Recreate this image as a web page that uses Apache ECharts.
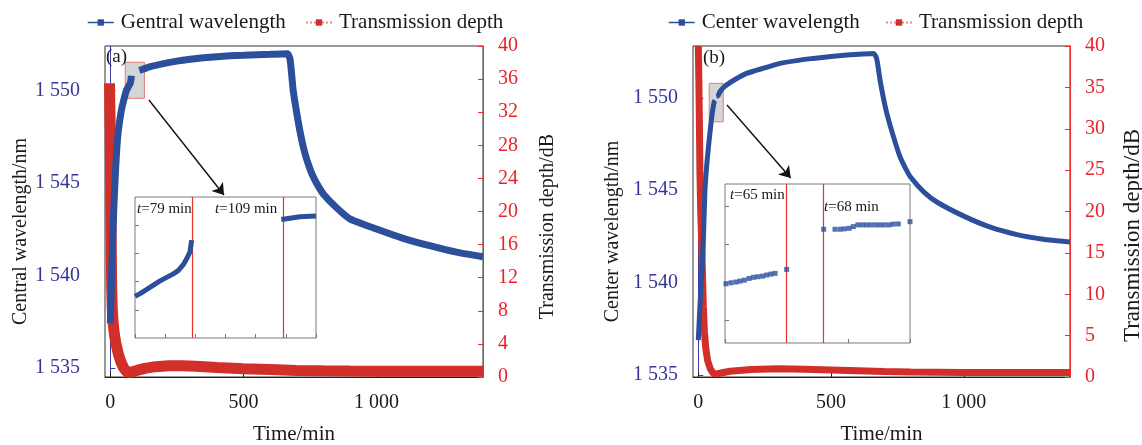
<!DOCTYPE html>
<html>
<head>
<meta charset="utf-8">
<script src="https://cdn.jsdelivr.net/npm/echarts@6/dist/echarts.min.js"></script>
<style>
  html, body { margin: 0; padding: 0; background: #fff; }
  #chart { width: 1142px; height: 445px; }
</style>
</head>
<body>
<div id="chart"></div>
<script>
// ---- panel (a) ----
const aWaveTime = [0, 3, 6, 9, 12, 16, 20, 25, 30, 40, 50, 60, 66, 72, 75, 77, 79, 94, 109, 120, 150, 200, 250, 300, 350, 400, 450, 500, 550, 600, 640, 665, 675, 687, 700, 715, 730, 750, 765, 780, 800, 850, 900, 1000, 1100, 1200, 1300, 1400];
const aWaveNm = [1537.4, 1539.0, 1540.6, 1541.9, 1543.2, 1544.6, 1545.8, 1547.0, 1547.8, 1548.8, 1549.45, 1549.99, 1550.15, 1550.31, 1550.41, 1550.52, 1550.79, null, 1551.08, 1551.13, 1551.28, 1551.45, 1551.58, 1551.68, 1551.76, 1551.82, 1551.87, 1551.9, 1551.93, 1551.95, 1551.97, 1551.98, 1551.7, 1550.0, 1548.8, 1547.6, 1546.65, 1545.75, 1545.25, 1544.85, 1544.4, 1543.65, 1543.05, 1542.5, 1542.0, 1541.6, 1541.25, 1541.0];
const aDepthTime = [-3, -2, -1, 0, 1, 2, 3, 4, 5, 7, 10, 15, 20, 30, 40, 50, 60, 68, 80, 100, 130, 170, 220, 270, 320, 400, 500, 600, 700, 800, 900, 1000, 1100, 1200, 1300, 1400];
const aDepthDb = [35.5, 33, 31, 28, 24, 20, 17, 14, 11, 8.5, 6.8, 5.2, 4.2, 2.8, 1.8, 1.1, 0.7, 0.55, 0.6, 0.8, 1.05, 1.25, 1.35, 1.35, 1.3, 1.15, 1.0, 0.9, 0.8, 0.75, 0.72, 0.7, 0.68, 0.7, 0.68, 0.7];
const aInsetTime = [60, 61.7, 63.9, 66.1, 68.3, 70.5, 72.7, 74.4, 76.0, 77.1, 78.2, 78.8, 93, 108.5, 114.7, 120];
const aInsetNm = [1549.99, 1550.03, 1550.09, 1550.15, 1550.21, 1550.26, 1550.31, 1550.36, 1550.44, 1550.52, 1550.62, 1550.79, null, 1551.08, 1551.12, 1551.13];
const aMarkTimes = [79, 109];

// ---- panel (b) ----
const bWaveTime = [0, 6, 13, 19, 25, 32, 40, 50, 56, 60, 62, 64, 65, 66.5, 68, 75, 82, 95, 107, 140, 182, 250, 308, 370, 433, 500, 559, 620, 660, 672, 684, 697, 710, 735, 760, 780, 800, 850, 900, 1000, 1100, 1200, 1300, 1400];
const bWaveNm = [1536.9, 1538.7, 1540.5, 1542.3, 1545.0, 1546.4, 1547.6, 1548.9, 1549.5, 1549.79, 1549.82, 1549.85, 1549.87, null, 1550.08, 1550.12, 1550.34, 1550.55, 1550.7, 1551.0, 1551.32, 1551.62, 1551.86, 1552.01, 1552.13, 1552.23, 1552.31, 1552.37, 1552.4, 1552.1, 1551.0, 1550.0, 1549.16, 1547.9, 1546.8, 1546.2, 1545.7, 1544.9, 1544.35, 1543.6, 1543.0, 1542.6, 1542.35, 1542.2];
const bDepthTime = [0, 2, 4, 6, 9, 13, 16, 19, 23, 28, 35, 45, 55, 63, 80, 120, 200, 300, 400, 500, 600, 700, 800, 1000, 1200, 1400];
const bDepthDb = [40, 36, 31, 25, 20, 16, 12, 8.5, 5.5, 3.5, 2.0, 1.0, 0.5, 0.35, 0.45, 0.7, 0.9, 1.0, 0.95, 0.85, 0.75, 0.65, 0.6, 0.55, 0.55, 0.55];
const bInsetTime = [60.08, 60.49, 60.89, 61.22, 61.57, 61.95, 62.3, 62.65, 63.03, 63.38, 63.73, 64.06, 65.0, 68.0, 68.92, 69.33, 69.68, 70.06, 70.41, 70.77, 71.14, 71.49, 71.84, 72.22, 72.57, 72.92, 73.3, 73.65, 74.05, 75.0];
const bInsetNm = [1549.793, 1549.798, 1549.802, 1549.807, 1549.812, 1549.821, 1549.827, 1549.83, 1549.833, 1549.839, 1549.844, 1549.848, 1549.869, 1550.081, 1550.081, 1550.081, 1550.083, 1550.086, 1550.095, 1550.104, 1550.104, 1550.104, 1550.104, 1550.104, 1550.104, 1550.104, 1550.104, 1550.108, 1550.109, 1550.121];
const bMarkTimes = [65, 68];

// tick labels
const timeTicks = [0, 500, 1000];
const waveTicks = [1535, 1540, 1545, 1550];
const aInsetTicks = [1549.8, 1550.2, 1550.6, 1551.0];
const bInsetTicks = [1549.6, 1549.8, 1550.0, 1550.2];

const FONT = 'Liberation Serif';
const BLUE = '#2c4f9c';
const RED = '#d22f2a';
const AXIS_BLUE = '#3a3aa8';
const AXIS_RED = '#ee2a2a';

const pairs = (xs, ys) => xs.map((x, i) => [x, ys[i]]);
// 1550 -> "1 550"
const fmt = v => {
  const s = String(Math.round(v));
  return s.length === 4 ? s[0] + ' ' + s.slice(1) : s;
};

function timeAxis(gridIndex) {
  return {
    type: 'value', gridIndex: gridIndex, min: -20, max: 1400,
    axisLine: { lineStyle: { color: '#222' } },
    axisTick: { inside: true, length: 5, customValues: timeTicks, lineStyle: { color: '#222' } },
    axisLabel: { customValues: timeTicks, formatter: fmt, fontSize: 20, fontFamily: FONT, color: '#1a1a1a', margin: 16 },
    splitLine: { show: false },
    name: 'Time/min', nameLocation: 'middle', nameGap: 47,
    nameTextStyle: { fontSize: 21, fontFamily: FONT, color: '#1a1a1a' }
  };
}

function waveAxis(gridIndex, min, max, name, gap, margin) {
  return {
    type: 'value', gridIndex: gridIndex, position: 'left', min: min, max: max,
    axisLine: { show: true, lineStyle: { color: AXIS_BLUE } },
    axisTick: { show: true, inside: true, length: 5, customValues: waveTicks, lineStyle: { color: AXIS_BLUE } },
    axisLabel: { customValues: waveTicks, formatter: fmt, fontSize: 20, fontFamily: FONT, color: '#35359a', margin: margin },
    splitLine: { show: false },
    name: name, nameLocation: 'middle', nameRotate: 90, nameGap: gap,
    nameTextStyle: { fontSize: 20, fontFamily: FONT, color: '#1a1a1a', padding: [0, 40, 0, 0] }
  };
}

function depthAxis(gridIndex, interval, nameSize, nameGap, shift) {
  return {
    type: 'value', gridIndex: gridIndex, position: 'right', min: 0, max: 40, interval: interval,
    axisLine: { show: true, lineStyle: { color: AXIS_RED } },
    axisTick: { show: true, inside: true, length: 5, lineStyle: { color: AXIS_RED } },
    axisLabel: { fontSize: 20, fontFamily: FONT, color: '#e8232a', margin: 15 },
    splitLine: { show: false },
    name: 'Transmission depth/dB', nameLocation: 'middle', nameRotate: 90, nameGap: nameGap,
    nameTextStyle: { fontSize: nameSize, fontFamily: FONT, color: '#1a1a1a', padding: [0, shift, 0, 0] }
  };
}

function insetX(gridIndex, min, max, interval) {
  return {
    type: 'value', gridIndex: gridIndex, min: min, max: max, interval: interval, z: 4,
    axisLine: { show: false },
    axisTick: { inside: true, length: 4, lineStyle: { color: '#777' } },
    axisLabel: { show: false },
    splitLine: { show: false }
  };
}

function insetY(gridIndex, min, max, ticks) {
  return {
    type: 'value', gridIndex: gridIndex, min: min, max: max, z: 4,
    axisLine: { show: false },
    axisTick: { inside: true, length: 4, customValues: ticks, lineStyle: { color: '#777' } },
    axisLabel: { show: false, customValues: ticks },
    splitLine: { show: false }
  };
}

function legend(left, name, dotted) {
  return {
    left: left, top: 12, padding: 0, itemWidth: 26, itemHeight: 8, itemGap: 0,
    data: [name],
    lineStyle: dotted ? { width: 2, type: 'dotted', color: '#f08a85' } : { width: 1.5 },
    textStyle: { fontSize: 21, fontFamily: FONT, color: '#1a1a1a', padding: [0, 0, 0, 2] },
    selectedMode: false
  };
}

const grayBox = {
  silent: true,
  itemStyle: { color: 'rgba(195,195,195,0.7)', borderColor: '#e57a7a', borderWidth: 1 }
};
const arrowLine = {
  silent: true, symbol: ['none', 'arrow'], symbolSize: 11,
  lineStyle: { color: '#111', width: 1.4, type: 'solid' },
  label: { show: false }
};
const redLine = {
  silent: true, symbol: ['none', 'none'],
  lineStyle: { color: '#e5352a', width: 1.2, type: 'solid' },
  label: { show: false }
};

function label(left, top, text, size) {
  return {
    type: 'text', left: left, top: top, z: 20,
    style: {
      text: text, fontSize: size, fontFamily: FONT, fill: '#1a1a1a',
      rich: { i: { fontStyle: 'italic', fontSize: size, fontFamily: FONT, fill: '#1a1a1a' } }
    }
  };
}

const chart = echarts.init(document.getElementById('chart'));
chart.setOption({
  animation: false,
  backgroundColor: '#fff',
  legend: [
    legend(87, 'Gentral wavelength', false),
    legend(305, 'Transmission depth', true),
    legend(668, 'Center wavelength', false),
    legend(885, 'Transmission depth', true)
  ],
  grid: [
    { left: 105, top: 46, width: 378, height: 331, show: true, borderColor: '#333', borderWidth: 1, outerBoundsMode: 'none' },
    { left: 693, top: 46, width: 377, height: 331, show: true, borderColor: '#333', borderWidth: 1, outerBoundsMode: 'none' },
    { left: 135, top: 197, width: 181, height: 141, show: true, backgroundColor: '#fff', borderColor: '#7a7a7a', borderWidth: 1, z: 3, outerBoundsMode: 'none' },
    { left: 725, top: 184, width: 185, height: 159, show: true, backgroundColor: '#fff', borderColor: '#7a7a7a', borderWidth: 1, z: 3, outerBoundsMode: 'none' }
  ],
  xAxis: [
    timeAxis(0),
    timeAxis(1),
    insetX(2, 60, 120, 10),
    insetX(3, 60, 75, 5)
  ],
  yAxis: [
    waveAxis(0, 1534.5, 1552.4, 'Central wavelength/nm', 70, 25),
    depthAxis(0, 4, 20, 55, 30),
    waveAxis(1, 1534.9, 1552.8, 'Center wavelength/nm', 70, 15),
    depthAxis(1, 5, 23, 51, 48),
    insetY(2, 1549.4, 1551.4, aInsetTicks),
    insetY(3, 1549.48, 1550.32, bInsetTicks)
  ],
  graphic: [
    label(106, 48, '(a)', 19),
    label(703, 49, '(b)', 19),
    label(137, 202, '{i|t}=79 min', 15),
    label(215, 202, '{i|t}=109 min', 15),
    label(730, 188, '{i|t}=65 min', 15),
    label(824, 200, '{i|t}=68 min', 15)
  ],
  series: [
    {
      name: 'Transmission depth', type: 'line', xAxisIndex: 0, yAxisIndex: 1,
      data: pairs(aDepthTime, aDepthDb), showSymbol: false, symbol: 'rect',
      lineStyle: { width: 11, color: RED }, itemStyle: { color: RED }, z: 2
    },
    {
      name: 'Gentral wavelength', type: 'line', xAxisIndex: 0, yAxisIndex: 0,
      data: pairs(aWaveTime, aWaveNm), showSymbol: false, symbol: 'rect', smooth: 0.2,
      lineStyle: { width: 7, color: BLUE }, itemStyle: { color: BLUE }, z: 2,
      markLine: Object.assign({ data: [[{ coord: [145, 1549.48] }, { coord: [427, 1544.34] }]] }, arrowLine)
    },
    {
      name: 'box a', type: 'line', xAxisIndex: 0, yAxisIndex: 0, data: [], z: 3,
      markArea: Object.assign({ data: [[{ coord: [56, 1551.52] }, { coord: [128, 1549.57] }]] }, grayBox)
    },
    {
      name: 'Transmission depth', type: 'line', xAxisIndex: 1, yAxisIndex: 3,
      data: pairs(bDepthTime, bDepthDb), showSymbol: false, symbol: 'rect',
      lineStyle: { width: 7, color: RED }, itemStyle: { color: RED }, z: 2
    },
    {
      name: 'Center wavelength', type: 'line', xAxisIndex: 1, yAxisIndex: 2,
      data: pairs(bWaveTime, bWaveNm), showSymbol: false, symbol: 'rect', smooth: 0.2,
      lineStyle: { width: 5, color: BLUE }, itemStyle: { color: BLUE }, z: 2,
      markLine: Object.assign({ data: [[{ coord: [108, 1549.61] }, { coord: [348, 1545.66] }]] }, arrowLine)
    },
    {
      name: 'box b', type: 'line', xAxisIndex: 1, yAxisIndex: 2, data: [], z: 3,
      markArea: Object.assign({ data: [[{ coord: [41, 1550.78] }, { coord: [94, 1548.7] }]] }, grayBox)
    },
    {
      name: 'inset a', type: 'line', xAxisIndex: 2, yAxisIndex: 4,
      data: pairs(aInsetTime, aInsetNm), showSymbol: false,
      lineStyle: { width: 5, color: BLUE }, z: 5,
      markLine: Object.assign({ data: aMarkTimes.map(t => ({ xAxis: t })) }, redLine)
    },
    {
      name: 'inset b', type: 'scatter', xAxisIndex: 3, yAxisIndex: 5,
      data: pairs(bInsetTime, bInsetNm), symbol: 'rect', symbolSize: 5,
      itemStyle: { color: BLUE }, z: 5,
      markLine: Object.assign({ data: bMarkTimes.map(t => ({ xAxis: t })) }, redLine)
    }
  ]
});
</script>
</body>
</html>
